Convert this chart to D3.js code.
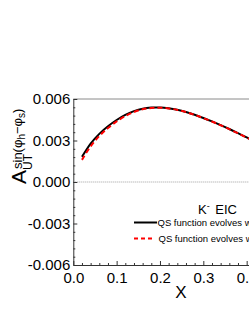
<!DOCTYPE html>
<html>
<head>
<meta charset="utf-8">
<script src="https://cdn.jsdelivr.net/npm/d3@7"></script>
<style>
  body { margin: 0; background: #fff; }
  svg { display: block; font-family: "Liberation Sans", Arial, sans-serif; }
</style>
</head>
<body>
<div id="chart"></div>
<script>
// x values of the calculation (the right part of the frame is cut off)
var xVals = [0.02, 0.04, 0.06, 0.08, 0.10, 0.12, 0.14, 0.16, 0.18, 0.20, 0.22, 0.24,
             0.26, 0.28, 0.30, 0.32, 0.34, 0.36, 0.38, 0.40, 0.42, 0.44, 0.46];
// QS function evolves w... (solid black)
var solidVals = [0.00182, 0.00278, 0.00348, 0.00403, 0.00448, 0.00485, 0.00512, 0.00530, 0.00538, 0.00539,
                 0.00533, 0.00522, 0.00506, 0.00486, 0.00463, 0.00438, 0.00411, 0.00383, 0.00353, 0.00322,
                 0.00292, 0.00262, 0.00233];
// QS function evolves w... (dashed red)
var dashedVals = [0.00160, 0.00258, 0.00332, 0.00390, 0.00438, 0.00477, 0.00506, 0.00526, 0.00535, 0.00537,
                  0.00532, 0.00521, 0.00505, 0.00485, 0.00462, 0.00437, 0.00410, 0.00382, 0.00352, 0.00321,
                  0.00291, 0.00261, 0.00232];
var xTicks = [0.0, 0.1, 0.2, 0.3, 0.4, 0.5];
var yTicks = [-0.006, -0.003, 0.000, 0.003, 0.006];
var legendLabels = ["QS function evolves with", "QS function evolves with"];

var width = 249, height = 323;
var svg = d3.select("#chart").append("svg")
  .attr("width", width)
  .attr("height", height);

var x = d3.scaleLinear().domain([0, 0.5]).range([73.3, 290]);
var y = d3.scaleLinear().domain([-0.006, 0.006]).range([265, 99]);

var font = "\"Liberation Sans\", Arial, sans-serif";

// top frame line and zero line
svg.append("line")
  .attr("x1", x(0)).attr("x2", x(0.5))
  .attr("y1", y(0.006)).attr("y2", y(0.006))
  .attr("stroke", "#8a8a8a").attr("stroke-width", 1);

svg.append("line")
  .attr("x1", x(0)).attr("x2", x(0.5))
  .attr("y1", y(0)).attr("y2", y(0))
  .attr("stroke", "#888").attr("stroke-width", 0.8)
  .attr("stroke-dasharray", "1,1");

// minor ticks
var xMinor = d3.range(0, 0.5001, 0.02).filter(function(d) { return Math.abs(d * 10 - Math.round(d * 10)) > 1e-6; });
var yMinor = d3.range(-0.006, 0.00601, 0.0006).filter(function(d) { return Math.abs(d / 0.003 - Math.round(d / 0.003)) > 1e-6; });

svg.append("g")
  .attr("transform", "translate(0," + y(-0.006) + ")")
  .call(d3.axisBottom(x).tickValues(xMinor).tickSizeInner(-2).tickSizeOuter(0).tickFormat(""))
  .call(function(g) { g.select(".domain").remove(); });

svg.append("g")
  .attr("transform", "translate(" + x(0) + ",0)")
  .call(d3.axisLeft(y).tickValues(yMinor).tickSizeInner(-2).tickSizeOuter(0).tickFormat(""))
  .call(function(g) { g.select(".domain").remove(); });

// major axes
var xAxis = svg.append("g")
  .attr("transform", "translate(0," + y(-0.006) + ")")
  .call(d3.axisBottom(x).tickValues(xTicks).tickSizeInner(-4).tickSizeOuter(0)
    .tickPadding(7).tickFormat(d3.format(".1f")));
xAxis.selectAll("text").attr("font-size", 15).attr("font-family", font).attr("fill", "#000");

var yAxis = svg.append("g")
  .attr("transform", "translate(" + x(0) + ",0)")
  .call(d3.axisLeft(y).tickValues(yTicks).tickSizeInner(-4).tickSizeOuter(0)
    .tickPadding(3).tickFormat(d3.format(".3f")));
yAxis.selectAll("text").attr("font-size", 15).attr("font-family", font).attr("fill", "#000")
  .text(function(d) { return d3.format(".3f")(d).replace("\u2212", "-"); });

svg.selectAll(".domain, .tick line").attr("stroke", "#333");

// axis titles
svg.append("text")
  .attr("x", 181).attr("y", 298)
  .attr("text-anchor", "middle")
  .attr("font-size", 17).attr("font-family", font)
  .text("X");

var yt = svg.append("g").attr("transform", "translate(25.5,184) rotate(-90)");
yt.append("text").attr("x", 0).attr("y", 0)
  .attr("font-size", 21).attr("font-family", font).text("A");
yt.append("text").attr("x", 14).attr("y", 6)
  .attr("font-size", 12).attr("font-family", font).text("UT");
var sup = yt.append("text").attr("x", 15).attr("y", -3.5)
  .attr("font-size", 13).attr("font-family", font);
sup.append("tspan").text("sin(\u03c6");
sup.append("tspan").attr("font-size", 10).attr("dy", 2.5).text("h");
sup.append("tspan").attr("dy", -2.5).text("\u2212\u03c6");
sup.append("tspan").attr("font-size", 10).attr("dy", 2.5).text("s");
sup.append("tspan").attr("dy", -2.5).text(")");

// curves
var line = d3.line()
  .x(function(d) { return x(d[0]); })
  .y(function(d) { return y(d[1]); })
  .curve(d3.curveCatmullRom);

svg.append("path")
  .attr("d", line(d3.zip(xVals, solidVals)))
  .attr("fill", "none").attr("stroke", "#000").attr("stroke-width", 2);

svg.append("path")
  .attr("d", line(d3.zip(xVals, dashedVals)))
  .attr("fill", "none").attr("stroke", "#ff0000").attr("stroke-width", 2)
  .attr("stroke-dasharray", "5,3");

// legend
var lt = svg.append("text")
  .attr("x", 198).attr("y", 214)
  .attr("font-size", 13).attr("font-family", font);
lt.append("tspan").text("K");
lt.append("tspan").attr("dy", -5.5).attr("font-size", 9).text("-");
lt.append("tspan").attr("dy", 5.5).attr("dx", 2).text(" EIC");

svg.append("line")
  .attr("x1", 134).attr("x2", 157).attr("y1", 222.5).attr("y2", 222.5)
  .attr("stroke", "#000").attr("stroke-width", 2);
svg.append("text")
  .attr("x", 157.5).attr("y", 226)
  .attr("font-size", 9.5).attr("font-family", font)
  .text(legendLabels[0]);

svg.append("line")
  .attr("x1", 134).attr("x2", 155).attr("y1", 238.5).attr("y2", 238.5)
  .attr("stroke", "#ff0000").attr("stroke-width", 2)
  .attr("stroke-dasharray", "4,3");
svg.append("text")
  .attr("x", 158.5).attr("y", 242)
  .attr("font-size", 9.5).attr("font-family", font)
  .text(legendLabels[1]);
</script>
</body>
</html>
